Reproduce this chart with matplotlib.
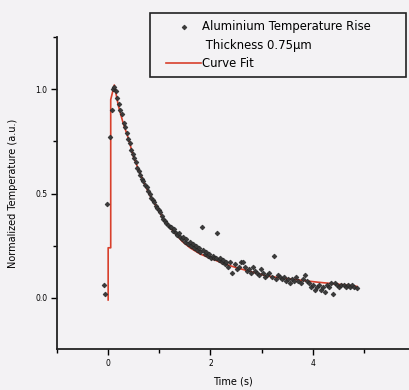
#Import the necessary python libraries
import numpy as np
import matplotlib
matplotlib.use('Agg')
import matplotlib.pyplot as plt
from matplotlib.ticker import MultipleLocator
from matplotlib.patches import Rectangle
from matplotlib.legend_handler import HandlerLine2D
from matplotlib.transforms import Affine2D

#measured points (time in s, normalized temperature)
time_s = [-0.08, -0.07, -0.02, 0.04, 0.07, 0.10, 0.12,
          0.15, 0.18, 0.21, 0.24, 0.27, 0.30, 0.33, 0.36, 0.39, 0.42,
          0.45, 0.48, 0.51, 0.54, 0.57, 0.60, 0.63, 0.66, 0.69, 0.72,
          0.75, 0.78, 0.81, 0.84, 0.87, 0.90, 0.93, 0.96, 0.99, 1.02,
          1.05, 1.08, 1.11, 1.14, 1.17, 1.20, 1.23, 1.26, 1.29, 1.32,
          1.35, 1.38, 1.41, 1.44, 1.47, 1.50, 1.53, 1.56, 1.59, 1.62,
          1.65, 1.68, 1.71, 1.74, 1.77, 1.80, 1.84, 1.86, 1.89, 1.92,
          1.95, 1.98, 2.01, 2.04, 2.07, 2.10, 2.13, 2.16, 2.19, 2.22,
          2.25, 2.28, 2.31, 2.35, 2.39, 2.43, 2.47, 2.51, 2.55, 2.59,
          2.63, 2.67, 2.71, 2.75, 2.79, 2.83, 2.87, 2.91, 2.95, 2.99,
          3.03, 3.07, 3.11, 3.15, 3.20, 3.24, 3.28, 3.32, 3.36, 3.40,
          3.44, 3.48, 3.52, 3.56, 3.60, 3.64, 3.68, 3.72, 3.76, 3.80,
          3.84, 3.88, 3.92, 3.96, 4.00, 4.04, 4.08, 4.12, 4.16, 4.20,
          4.24, 4.28, 4.32, 4.36, 4.40, 4.44, 4.48, 4.52, 4.56, 4.60,
          4.64, 4.68, 4.72, 4.76, 4.80, 4.86]
temp_au = [0.06, 0.02, 0.45, 0.77, 0.90, 1.00, 1.01,
           0.99, 0.96, 0.93, 0.90, 0.88, 0.84, 0.82, 0.79, 0.76, 0.74,
           0.71, 0.69, 0.67, 0.65, 0.62, 0.61, 0.59, 0.57, 0.56, 0.54,
           0.53, 0.51, 0.50, 0.48, 0.47, 0.46, 0.44, 0.43, 0.42, 0.41,
           0.39, 0.38, 0.37, 0.36, 0.35, 0.34, 0.34, 0.32, 0.33, 0.31,
           0.30, 0.31, 0.29, 0.28, 0.29, 0.27, 0.28, 0.26, 0.27, 0.25,
           0.26, 0.24, 0.25, 0.23, 0.24, 0.22, 0.34, 0.23, 0.21, 0.22,
           0.20, 0.21, 0.19, 0.20, 0.19, 0.19, 0.31, 0.18, 0.19, 0.17,
           0.18, 0.16, 0.17, 0.15, 0.17, 0.12, 0.16, 0.14, 0.15, 0.17,
           0.17, 0.15, 0.13, 0.14, 0.12, 0.15, 0.13, 0.12, 0.11, 0.14,
           0.12, 0.10, 0.11, 0.12, 0.10, 0.20, 0.09, 0.11, 0.10, 0.09,
           0.10, 0.08, 0.09, 0.07, 0.09, 0.08, 0.10, 0.08, 0.07, 0.09,
           0.11, 0.08, 0.07, 0.05, 0.06, 0.04, 0.05, 0.06, 0.04, 0.05,
           0.03, 0.06, 0.05, 0.07, 0.02, 0.07, 0.06, 0.05, 0.06, 0.06,
           0.05, 0.06, 0.05, 0.06, 0.05, 0.045]

#fitted curve
fit_t = [0.0, 0.0, 0.05, 0.05, 0.12, 0.2, 0.29, 0.4, 0.49, 0.6, 0.72,
         0.84, 0.96, 1.1, 1.27, 1.45, 1.6, 1.8, 2.0, 2.25, 2.5, 2.8,
         3.1, 3.4, 3.75, 4.1, 4.4, 4.86]
fit_y = [-0.01, 0.24, 0.24, 0.95, 1.02, 0.92, 0.84, 0.76, 0.68, 0.61, 0.54,
         0.48, 0.43, 0.37, 0.32, 0.27, 0.24, 0.21, 0.19, 0.165, 0.145, 0.125,
         0.105, 0.095, 0.085, 0.075, 0.068, 0.055]


# legend marker sits on the first line of a two line label
class TopLineHandler(HandlerLine2D):
    def create_artists(self, legend, orig_handle, xdescent, ydescent,
                       width, height, fontsize, trans):
        trans = Affine2D().translate(0, 6.8) + trans
        return super().create_artists(legend, orig_handle, xdescent, ydescent,
                                      width, height, fontsize, trans)


bg = '#f3f2f4'
fig = plt.figure(figsize=(4.09, 3.9), dpi=100, facecolor=bg)
ax = fig.add_axes([57/409, 41/390, 352/409, 312/390], facecolor=bg)

fit_line, = ax.plot(fit_t, fit_y, color='#d8402c', lw=1.2, zorder=2, label='Curve Fit')
pts, = ax.plot(time_s, temp_au, ls='none', marker='D', ms=2.5, mfc='#3a3a3a',
               mec='#222222', mew=0.4, zorder=3,
               label='Aluminium Temperature Rise\n Thickness 0.75\u03bcm')

ax.set_xlim(-1, 5.88)
ax.set_ylim(-0.245, 1.25)
ax.xaxis.set_major_locator(MultipleLocator(2))
ax.xaxis.set_minor_locator(MultipleLocator(1))
ax.yaxis.set_major_locator(MultipleLocator(0.5))
ax.yaxis.set_minor_locator(MultipleLocator(0.25))
ax.tick_params(which='major', direction='out', length=4, width=1, labelsize=5.5, pad=3)
ax.tick_params(which='minor', direction='out', length=3, width=1)
ax.spines['top'].set_visible(False)
ax.spines['right'].set_visible(False)
for s in ['left', 'bottom']:
    ax.spines[s].set_linewidth(1.3)
    ax.spines[s].set_color('#222222')

ax.set_xlabel('Time (s)', fontsize=7, labelpad=6)
ax.set_ylabel('Normalized Temperature (a.u.)', fontsize=7, labelpad=12)

#legend box drawn by hand, entries placed inside it without a frame
fig.patches.append(Rectangle((150/409, 1 - 77/390), 256/409, 64/390,
                             transform=fig.transFigure, fill=False,
                             edgecolor='#222222', lw=1.2))
leg = ax.legend([pts, fit_line], [pts.get_label(), fit_line.get_label()],
                loc='upper left', bbox_to_anchor=(166/409, 1 - 20/390),
                bbox_transform=fig.transFigure, fontsize=8.4,
                frameon=False, handlelength=3.0, handletextpad=0.1,
                borderpad=0, labelspacing=0.5, borderaxespad=0,
                handler_map={pts: TopLineHandler()})
leg.get_texts()[0].set_linespacing(1.55)

fig.savefig('out.png', dpi=100, facecolor=bg)
